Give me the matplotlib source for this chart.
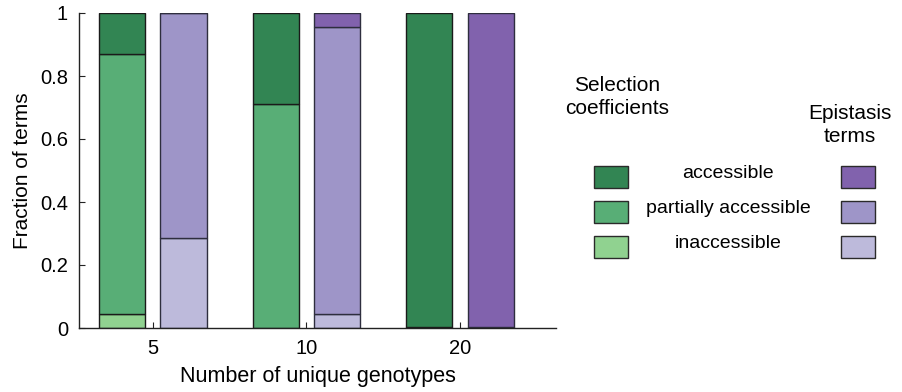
import numpy as np
import matplotlib
matplotlib.use("Agg")
import matplotlib.pyplot as plt
from matplotlib.patches import Rectangle

plt.rcParams["font.family"] = ["Liberation Sans", "DejaVu Sans"]

# data
genotypes = ["5", "10", "20"]
sel_inaccessible = [0.045, 0.0, 0.0]
sel_partial = [0.825, 0.71, 0.004]
sel_accessible = [0.13, 0.29, 0.996]
epi_inaccessible = [0.285, 0.045, 0.0]
epi_partial = [0.715, 0.91, 0.004]
epi_accessible = [0.0, 0.045, 0.996]

levels = ["accessible", "partially accessible", "inaccessible"]
greens = ["#328553", "#58ae76", "#90d290"]
purples = ["#8162ad", "#9e95c8", "#bdbadb"]

fig = plt.figure(figsize=(9.02, 3.92), dpi=100)
ax = fig.add_axes([79 / 902, 64 / 392, (556 - 79) / 902, (328 - 13) / 392])

x = np.arange(1, len(genotypes) + 1)
w = 0.30
off = 0.20

bottom = np.zeros(len(x))
for vals, c in zip([sel_inaccessible, sel_partial, sel_accessible], greens[::-1]):
    ax.bar(x - off, vals, w, bottom=bottom, color=c, edgecolor="#1a1a1a", linewidth=1.0)
    bottom += np.array(vals)

bottom = np.zeros(len(x))
for vals, c in zip([epi_inaccessible, epi_partial, epi_accessible], purples[::-1]):
    ax.bar(x + off, vals, w, bottom=bottom, color=c, edgecolor="#2e2e3e", linewidth=1.0)
    bottom += np.array(vals)

ax.set_xlim(0.52, 3.625)
ax.set_ylim(0, 1)
ax.set_xticks(x)
ax.set_xticklabels(genotypes)
ax.set_yticks([0, 0.2, 0.4, 0.6, 0.8, 1])
ax.set_yticklabels(["0", "0.2", "0.4", "0.6", "0.8", "1"])
ax.tick_params(direction="in", length=4, labelsize=14.5, pad=8, color="#222222")
ax.spines["top"].set_visible(False)
ax.spines["right"].set_visible(False)
for s in ("left", "bottom"):
    ax.spines[s].set_linewidth(1.0)
    ax.spines[s].set_color("#222222")
ax.set_xlabel("Number of unique genotypes", fontsize=15.5, labelpad=6)
ax.set_ylabel("Fraction of terms", fontsize=15, labelpad=6)

# custom two-column legend drawn in pixel coordinates
lg = fig.add_axes([0, 0, 1, 1])
lg.set_xlim(0, 902)
lg.set_ylim(392, 0)
lg.axis("off")
lg.text(617, 97, "Selection\ncoefficients", ha="center", va="center", fontsize=15,
        linespacing=1.25)
lg.text(850, 125, "Epistasis\nterms", ha="center", va="center", fontsize=15,
        linespacing=1.25)
rows_y = [166, 201, 236]
for ytop, lab, g, p in zip(rows_y, levels, greens, purples):
    lg.add_patch(Rectangle((594, ytop), 34, 22, facecolor=g, edgecolor="#2a2a2a", linewidth=1.0))
    lg.add_patch(Rectangle((841, ytop), 34, 22, facecolor=p, edgecolor="#2a2a2a", linewidth=1.0))
    lg.text(728, ytop + 7, lab, ha="center", va="center", fontsize=14)

fig.savefig("out.png", dpi=100)
